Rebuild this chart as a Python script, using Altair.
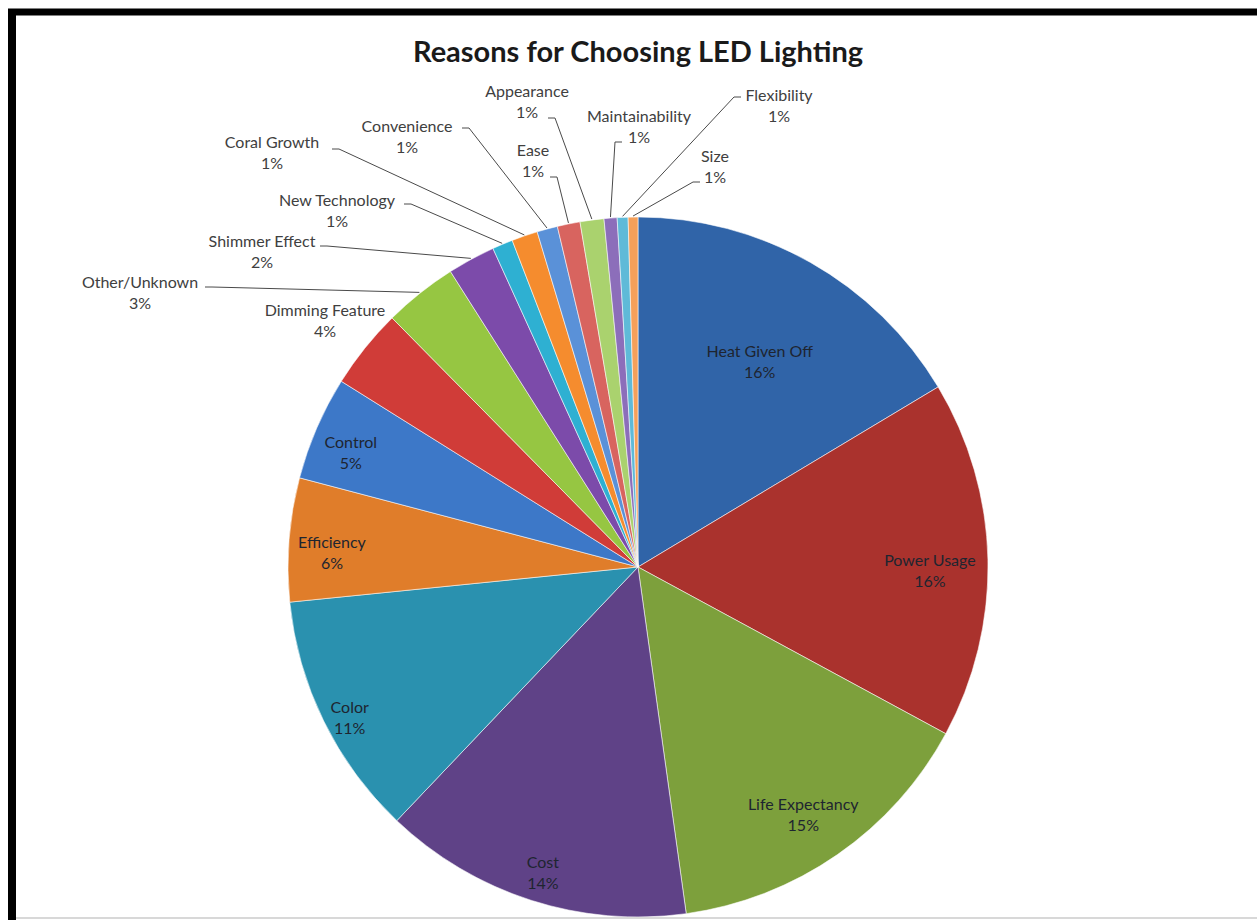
import math
import altair as alt
import pandas as pd

# ---------------- data ----------------
TITLE = "Reasons for Choosing LED Lighting"
categories = [
    "Heat Given Off", "Power Usage", "Life Expectancy", "Cost", "Color",
    "Efficiency", "Control", "Dimming Feature", "Other/Unknown", "Shimmer Effect",
    "New Technology", "Coral Growth", "Convenience", "Ease", "Appearance",
    "Maintainability", "Flexibility", "Size",
]
shares = [16.4, 16.5, 14.9, 14.3, 11.3, 5.7, 4.8, 3.7, 3.4, 2.2,
          0.95, 1.2, 0.95, 1.05, 1.1, 0.6, 0.5, 0.45]
pct_labels = ["16%", "16%", "15%", "14%", "11%", "6%", "5%", "4%", "3%", "2%",
              "1%", "1%", "1%", "1%", "1%", "1%", "1%", "1%"]
slice_colors = [
    "#3064A8", "#AA322D", "#7DA03C", "#5F4287", "#2A91AF", "#E07D2A",
    "#3D78C8", "#D03C38", "#96C642", "#7C4BAA", "#2EB0D2", "#F58C2E",
    "#5A91D8", "#D8645F", "#AAD26E", "#8C6EBA", "#5FBAD8", "#F5A05A",
]

# ---------------- layout (canvas pixels) ----------------
W, H = 1257, 920
CX, CY, R = 638, 567, 350          # pie centre and radius
VW, VH = 2 * (W - CX), 2 * (H - CY)  # view centred on the pie
PAD_L, PAD_T = CX - (W - CX), CY - (H - CY)

# labels drawn inside the big slices: radius from centre (first text line)
inside_radius = {"Heat Given Off": 247, "Power Usage": 292, "Life Expectancy": 290,
                 "Cost": 311, "Color": 321, "Efficiency": 307, "Control": 313}
# labels placed outside: label block centre, and label end of its leader line
outside_label = {
    "Dimming Feature": ((325, 321), None),
    "Other/Unknown": ((140, 293), (205, 287)),
    "Shimmer Effect": ((262, 252), (320, 246)),
    "New Technology": ((337, 211), (404, 204)),
    "Coral Growth": ((272, 153), (332, 149)),
    "Convenience": ((407, 137), (462, 128)),
    "Ease": ((533, 161), (550, 177)),
    "Appearance": ((527, 102), (548, 118)),
    "Maintainability": ((639, 127), (622, 142)),
    "Flexibility": ((779, 106), (741, 97)),
    "Size": ((715, 167), (700, 182)),
}

# ---------------- tables ----------------
total = sum(shares)
pie = pd.DataFrame({"idx": range(len(categories)), "name": categories,
                    "share": shares, "color": slice_colors})

mid_angle = {}
acc = 0.0
for c, s in zip(categories, shares):
    mid_angle[c] = (acc + s / 2) / total * 2 * math.pi
    acc += s

def cart(px, py):
    return px - CX, CY - py

lab_rows, line_rows = [], []
for c, p in zip(categories, pct_labels):
    a = mid_angle[c]
    if c in inside_radius:
        r = inside_radius[c]
        lab_rows.append({"name": c, "txt": f"{c}\n{p}", "x": r * math.sin(a),
                         "y": r * math.cos(a), "grp": "in"})
    else:
        (bx, by), end = outside_label[c]
        x, y = cart(bx, by)
        lab_rows.append({"name": c, "txt": f"{c}\n{p}", "x": x, "y": y, "grp": "out"})
        if end is not None:
            ex, ey = cart(*end)
            rx, ry = (R + 1) * math.sin(a), (R + 1) * math.cos(a)
            step = 7 if rx > ex else -7
            for k, (lx, ly) in enumerate([(ex, ey), (ex + step, ey), (rx, ry)]):
                line_rows.append({"name": c, "k": k, "x": lx, "y": ly})

labels = pd.DataFrame(lab_rows)
leaders = pd.DataFrame(line_rows)

xs = alt.Scale(domain=[-VW / 2, VW / 2], nice=False, zero=False)
ys = alt.Scale(domain=[-VH / 2, VH / 2], nice=False, zero=False)

arcs = alt.Chart(pie).mark_arc(outerRadius=R, stroke="#ffffff", strokeWidth=1,
                               strokeOpacity=0.55).encode(
    theta=alt.Theta("share:Q", stack=True),
    color=alt.Color("color:N", scale=None),
    order=alt.Order("idx:Q"),
)

lines = alt.Chart(leaders).mark_line(color="#4a4a4a", strokeWidth=1).encode(
    x=alt.X("x:Q", scale=xs, axis=None),
    y=alt.Y("y:Q", scale=ys, axis=None),
    detail="name:N",
    order="k:Q",
)

txt_in = alt.Chart(labels[labels.grp == "in"]).mark_text(
    font="Lato", fontSize=16, lineBreak="\n", lineHeight=21, color="#1e2530",
    align="center", baseline="middle").encode(
    x=alt.X("x:Q", scale=xs, axis=None), y=alt.Y("y:Q", scale=ys, axis=None),
    text="txt:N")

txt_out = alt.Chart(labels[labels.grp == "out"]).mark_text(
    font="Lato", fontSize=16, lineBreak="\n", lineHeight=21, color="#404040",
    align="center", baseline="middle", dy=-10).encode(
    x=alt.X("x:Q", scale=xs, axis=None), y=alt.Y("y:Q", scale=ys, axis=None),
    text="txt:N")

one = pd.DataFrame({"a": [0]})
title = alt.Chart(one).mark_text(font="Lato", fontSize=29, fontWeight="bold",
                                 color="#1a1a1a", align="center",
                                 baseline="alphabetic").encode(
    x=alt.value(CX - PAD_L), y=alt.value(62 - PAD_T), text=alt.value(TITLE))

# picture frame of the reference image
frame_top = alt.Chart(one).mark_rule(color="#000000", strokeWidth=7).encode(
    x=alt.value(8 - PAD_L), x2=alt.value(W - PAD_L), y=alt.value(12 - PAD_T))
frame_left = alt.Chart(one).mark_rule(color="#000000", strokeWidth=8).encode(
    x=alt.value(12 - PAD_L), y=alt.value(9 - PAD_T), y2=alt.value(H - PAD_T))
frame_bottom = alt.Chart(one).mark_rule(color="#d8d8d8", strokeWidth=2).encode(
    x=alt.value(16 - PAD_L), x2=alt.value(W - PAD_L), y=alt.value(918 - PAD_T))

chart = alt.layer(arcs, lines, txt_in, txt_out, title,
                  frame_top, frame_left, frame_bottom).properties(
    width=VW, height=VH, autosize="none",
    padding={"left": PAD_L, "top": PAD_T, "right": 0, "bottom": 0},
    background="#ffffff",
).configure_view(strokeWidth=0)

chart.save("out.html", embed_options={"renderer": "svg", "actions": False})
